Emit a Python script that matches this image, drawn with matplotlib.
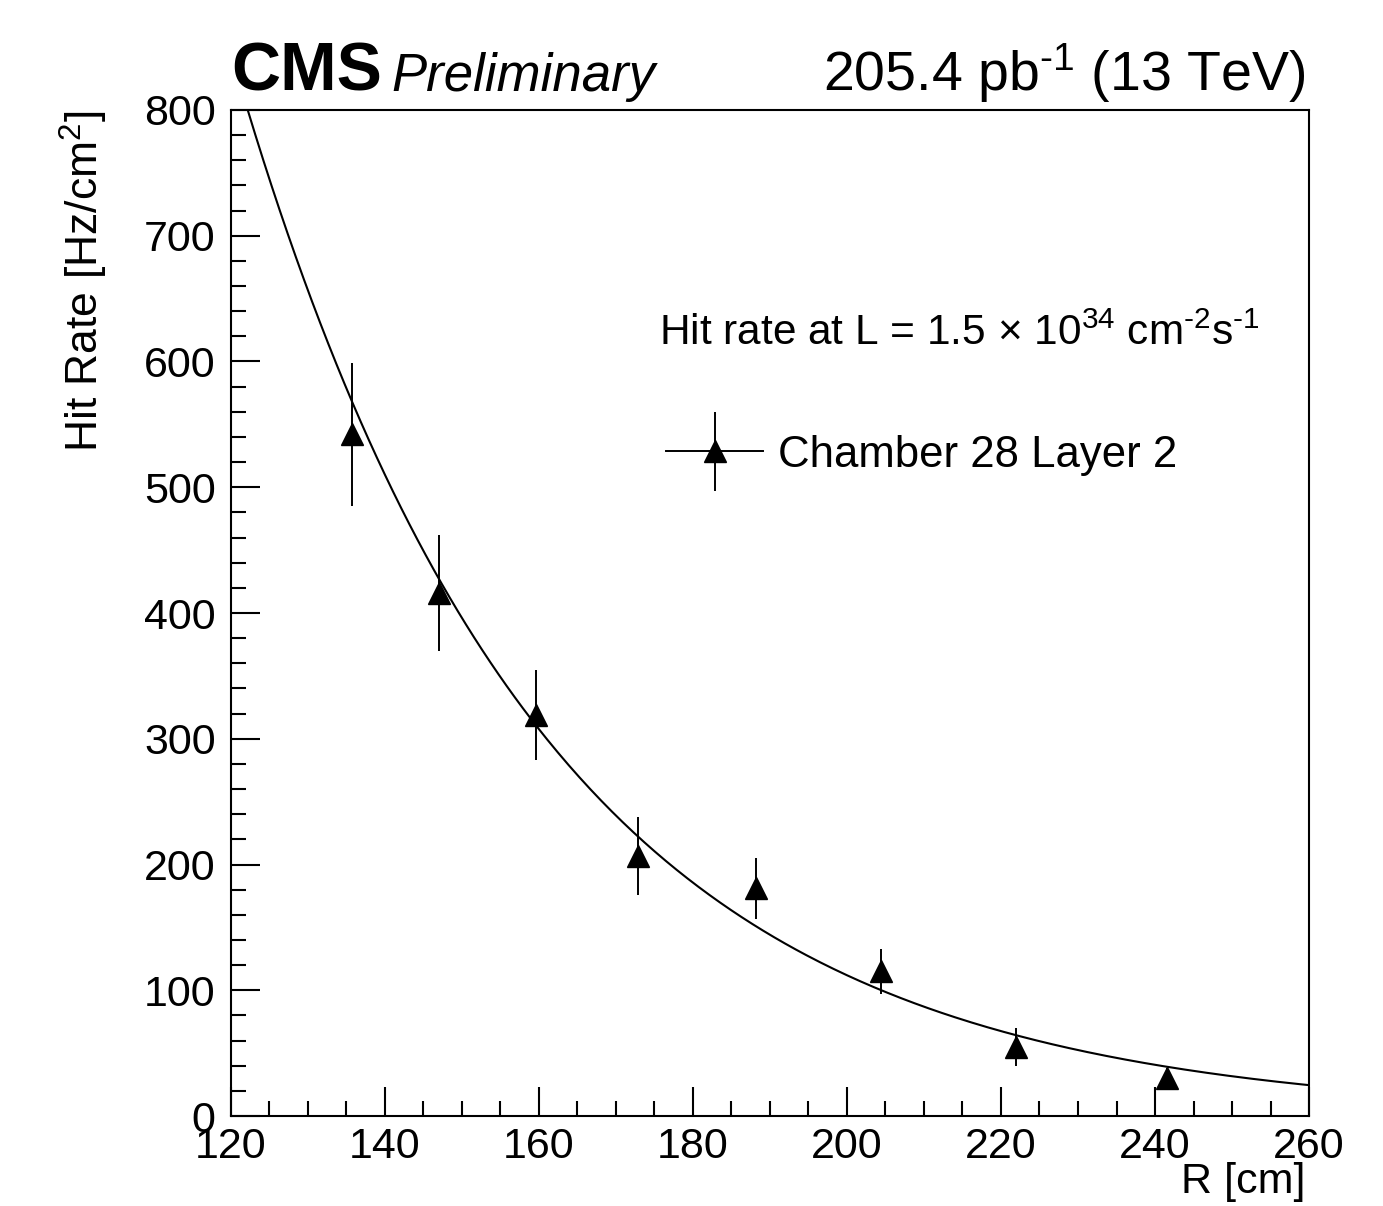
import numpy as np
import matplotlib
matplotlib.use("Agg")
import matplotlib.pyplot as plt
from matplotlib.lines import Line2D
from matplotlib.container import ErrorbarContainer
from matplotlib.legend_handler import HandlerErrorbar
from matplotlib.ticker import MultipleLocator

plt.rcParams['font.family'] = 'Liberation Sans'
plt.rcParams['mathtext.fontset'] = 'custom'
plt.rcParams['mathtext.rm'] = 'Liberation Sans'
plt.rcParams['mathtext.it'] = 'Liberation Sans:italic'
plt.rcParams['mathtext.bf'] = 'Liberation Sans:bold'

radius = [135.7, 147.0, 159.6, 172.9, 188.2, 204.4, 221.9, 241.6]
hit_rate = [542, 416, 319, 207, 181, 115, 55, 30]
hit_err = [57, 46, 36, 31, 24, 18, 15, 8]

# exponential fit: exp(p0 + p1*R)
fit_p0 = 9.772
fit_p1 = -0.02527

fig = plt.figure(figsize=(13.83, 12.06), dpi=100)
ax = fig.add_axes([0.1670, 0.0746, 0.7795, 0.8342])

r_fit = np.linspace(120, 260, 400)
ax.plot(r_fit, np.exp(fit_p0 + fit_p1 * r_fit), color='black', lw=1.5)

eb = ax.errorbar(radius, hit_rate, yerr=hit_err, fmt='^', color='black',
                 ms=16, elinewidth=1.4, capsize=0)

ax.set_xlim(120, 260)
ax.set_ylim(0, 800)
ax.xaxis.set_major_locator(MultipleLocator(20))
ax.xaxis.set_minor_locator(MultipleLocator(5))
ax.yaxis.set_major_locator(MultipleLocator(100))
ax.yaxis.set_minor_locator(MultipleLocator(20))
ax.tick_params(which='both', direction='in', top=False, right=False, width=1.5)
ax.tick_params(which='major', length=21, labelsize=31)
ax.tick_params(which='minor', length=10.5)
ax.tick_params(axis='y', which='major', pad=11)
ax.tick_params(axis='x', which='major', pad=8)
for s in ax.spines.values():
    s.set_linewidth(1.5)

ax.set_xlabel('R [cm]', fontsize=31, ha='right')
ax.xaxis.set_label_coords(0.997, -0.046)
ax.set_ylabel('Hit Rate [Hz/cm$^{2}$]', fontsize=32, ha='right')
ax.yaxis.set_label_coords(-0.112, 1.0)

ax.text(0.0, 1.019, 'CMS', transform=ax.transAxes, fontsize=49,
        fontweight='bold', va='baseline', ha='left')
ax.text(0.1486, 1.019, 'Preliminary', transform=ax.transAxes, fontsize=38,
        style='italic', va='baseline', ha='left')
ax.text(0.997, 1.019, '205.4 pb$^{\\text{-1}}$ (13 TeV)', transform=ax.transAxes,
        fontsize=40, va='baseline', ha='right')

ax.text(0.397, 0.766,
        'Hit rate at L = 1.5 \u00d7 10$^{34}$ cm$^{\\text{-2}}$s$^{\\text{-1}}$',
        transform=ax.transAxes, fontsize=30.5, va='baseline', ha='left')

line_proxy = Line2D([], [], color='black', lw=1.4)
ax.legend([(line_proxy, eb)], ['Chamber 28 Layer 2'],
          loc='center left', bbox_to_anchor=(0.404, 0.657),
          frameon=False, fontsize=31.5, borderaxespad=0, borderpad=0,
          handlelength=2.2, handletextpad=0.35, numpoints=1,
          handler_map={ErrorbarContainer: HandlerErrorbar(yerr_size=0.9)})

fig.savefig('out.png', dpi=100)
